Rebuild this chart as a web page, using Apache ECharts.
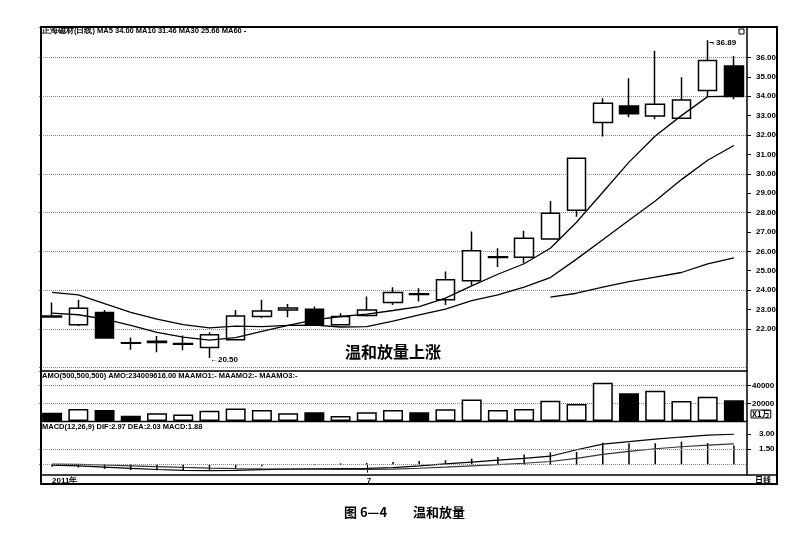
<!DOCTYPE html>
<html><head><meta charset="utf-8">
<script src="https://cdn.jsdelivr.net/npm/echarts@6/dist/echarts.min.js"></script>
<style>html,body{margin:0;padding:0;background:#fff}#c{width:788px;height:541px}</style>
</head><body><div id="c"></div>
<script>
const categories = ['06-15','06-16','06-17','06-20','06-21','06-22','06-23','06-24','06-27','06-28','06-29','06-30','07-01','07-04','07-05','07-06','07-07','07-08','07-11','07-12','07-13','07-14','07-15','07-18','07-19','07-20','07-21'];
const openP  = [22.66,22.21,22.85,21.29,21.30,21.21,21.04,21.44,22.64,22.98,23.02,22.21,22.69,23.36,23.81,23.50,24.48,25.68,25.70,26.64,28.12,32.64,33.50,32.98,32.87,34.29,35.56];
const closeP = [22.62,23.07,21.53,21.26,21.36,21.25,21.70,22.67,22.93,23.08,22.21,22.64,22.98,23.88,23.78,24.53,26.03,25.72,26.68,27.97,30.80,33.64,33.09,33.59,33.81,35.84,33.98];
const lowP   = [22.60,22.15,21.53,20.92,20.80,20.90,20.50,21.40,22.56,22.60,22.21,22.20,22.64,23.24,23.41,23.24,24.27,25.19,25.39,26.60,27.79,31.92,32.92,32.81,32.85,34.00,33.85];
const highP  = [23.36,23.50,22.98,21.56,21.64,21.66,21.83,22.98,23.50,23.29,23.16,22.81,23.67,24.15,24.10,24.96,27.02,26.16,27.06,28.60,30.82,33.90,34.93,36.34,34.98,36.89,36.08];
const ma5  = [22.81,22.73,22.50,22.18,21.82,21.58,21.42,21.55,21.87,22.18,22.47,22.64,22.76,22.95,23.15,23.59,24.22,24.82,25.36,26.16,27.50,29.05,30.60,31.95,33.00,33.98,34.00];
const ma10 = [23.88,23.76,23.30,22.85,22.50,22.22,22.05,22.14,22.12,22.18,22.20,22.10,22.12,22.40,22.72,23.02,23.46,23.76,24.15,24.65,25.60,26.60,27.60,28.60,29.70,30.70,31.46];
const ma30 = [null,null,null,null,null,null,null,null,null,null,null,null,null,null,null,null,null,null,null,23.64,23.84,24.15,24.44,24.67,24.91,25.36,25.66];
const volume = [9400,13600,12400,6000,8700,7500,11600,14300,12400,8700,9800,5600,9800,12400,9800,13200,24500,12400,13600,22900,19200,43300,31300,34200,22600,27500,23400];
const dif  = [-0.05,-0.12,-0.25,-0.38,-0.48,-0.56,-0.60,-0.56,-0.50,-0.45,-0.42,-0.40,-0.38,-0.30,-0.12,0.07,0.25,0.43,0.60,0.82,1.45,2.00,2.25,2.50,2.70,2.88,2.97];
const dea  = [0.05,0.02,-0.04,-0.12,-0.20,-0.28,-0.34,-0.39,-0.42,-0.44,-0.45,-0.46,-0.46,-0.44,-0.36,-0.25,-0.12,0.00,0.13,0.30,0.60,1.00,1.30,1.55,1.75,1.90,2.03];
const macdHist = [-0.20,-0.28,-0.42,-0.52,-0.56,-0.56,-0.52,-0.34,-0.16,0.00,0.06,0.12,0.16,0.26,0.36,0.43,0.59,0.75,1.00,1.20,1.24,2.15,2.09,2.09,2.25,2.10,1.88];
const priceTicks = [22,23,24,25,26,27,28,29,30,31,32,33,34,35,36];
const volumeTicks = [20000,40000];
const macdTicks = [1.5,3];
const macdGridLevels = [0,1.5];
const dateLabelIndex = [0,12];
const dateLabelText = ['2011年','7'];
const stockName = '正海磁材(日线)';
const amoText = 'AMO(500,500,500) AMO:234009616.00 MAAMO1:- MAAMO2:- MAAMO3:-';
const noteText = '温和放量上涨';
const captionNo = '图 6—4';
const captionTitle = '温和放量';

const last = a => a[a.length - 1];
const headerText = `${stockName} MA5 ${last(ma5).toFixed(2)} MA10 ${last(ma10).toFixed(2)} MA30 ${last(ma30).toFixed(2)} MA60 -`;
const macdText = `MACD(12,26,9) DIF:${last(dif).toFixed(2)} DEA:${last(dea).toFixed(2)} MACD:${last(macdHist).toFixed(2)}`;

const kData = categories.map((_, i) => [openP[i], closeP[i], lowP[i], highP[i]]);
const hiVal = Math.max(...highP), hiIdx = highP.indexOf(hiVal);
const loVal = Math.min(...lowP), loIdx = lowP.indexOf(loVal);
const volData = volume.map((v, i) => ({
  value: v,
  itemStyle: { color: closeP[i] < openP[i] ? '#000' : '#fff', borderColor: '#000', borderWidth: 1.5 }
}));

const F = 'Arial, "Liberation Sans", sans-serif';
const axisLab = { color: '#000', fontSize: 8, fontWeight: 'bold', fontFamily: F };
const dotted = { color: '#8a8a8a', type: 'dotted', width: 1 };
const gl = { left: 39, width: 708 };

const chart = echarts.init(document.getElementById('c'), null, { renderer: 'canvas' });
chart.setOption({
  animation: false,
  backgroundColor: '#fff',
  grid: [
    Object.assign({ top: 27, height: 344 }, gl),
    Object.assign({ top: 371, height: 50 }, gl),
    Object.assign({ top: 421, height: 54 }, gl)
  ],
  xAxis: [0, 1, 2].map(g => ({
    type: 'category', gridIndex: g, data: categories, boundaryGap: true,
    axisLine: { show: false },
    axisTick: g === 2 ? { show: true, alignWithLabel: true, length: 8, interval: (i) => dateLabelIndex.indexOf(i) > 0, lineStyle: { color: '#000' } } : { show: false },
    axisLabel: g === 2 ? Object.assign({ show: true, interval: (i) => dateLabelIndex.indexOf(i) >= 0, formatter: (v, i) => dateLabelText[dateLabelIndex.indexOf(i)] || '', align: 'left', margin: 2 }, axisLab, {fontSize: 8}) : { show: false },
    splitLine: { show: false }
  })),
  yAxis: [
    { type: 'value', gridIndex: 0, position: 'right', min: 19.83, max: 37.57, scale: true,
      axisLine: { show: true, lineStyle: { color: '#000', width: 1.5 } },
      axisTick: { show: true, customValues: priceTicks, length: 4, lineStyle: { color: '#000' } },
      axisLabel: Object.assign({ customValues: priceTicks, formatter: v => v.toFixed(2), margin: 9 }, axisLab),
      splitLine: { show: false } },
    { type: 'value', gridIndex: 0, position: 'right', min: 19.83, max: 37.57, splitNumber: 9, scale: true,
      axisLine: { show: false }, axisTick: { show: false }, axisLabel: { show: false },
      splitLine: { show: true, lineStyle: dotted } },
    { type: 'value', gridIndex: 1, position: 'right', min: 0, max: 56650, splitNumber: 3,
      axisLine: { show: true, lineStyle: { color: '#000', width: 1.5 } },
      axisTick: { show: true, customValues: volumeTicks, length: 4, lineStyle: { color: '#000' } },
      axisLabel: Object.assign({ customValues: volumeTicks, formatter: v => String(v), margin: 5 }, axisLab),
      splitLine: { show: true, lineStyle: dotted } },
    { type: 'value', gridIndex: 2, position: 'right', min: -1.02, max: 4.27, scale: true,
      axisLine: { show: true, lineStyle: { color: '#000', width: 1.5 } },
      axisTick: { show: true, customValues: macdTicks, length: 4, lineStyle: { color: '#000' } },
      axisLabel: Object.assign({ customValues: macdTicks, formatter: v => v.toFixed(2), margin: 12 }, axisLab),
      splitLine: { show: false } }
  ],
  series: [
    { type: 'candlestick', xAxisIndex: 0, yAxisIndex: 0, data: kData, barWidth: 19,
      itemStyle: { color: '#fff', color0: '#000', borderColor: '#000', borderColor0: '#000', borderWidth: 1.5 },
      markPoint: {
        symbol: 'circle', symbolSize: 1, itemStyle: { color: 'rgba(0,0,0,0)' }, silent: true,
        data: [
          { coord: [hiIdx, hiVal], label: { show: true, position: 'right', distance: 1, offset: [0, 3], formatter: '¬ ' + hiVal.toFixed(2), color: '#000', fontSize: 8, fontWeight: 'bold', fontFamily: F } },
          { coord: [loIdx, loVal], label: { show: true, position: 'right', distance: 0, offset: [0, 2], formatter: '←' + loVal.toFixed(2), color: '#000', fontSize: 8, fontWeight: 'bold', fontFamily: F } }
        ]
      } },
    { type: 'line', xAxisIndex: 0, yAxisIndex: 0, data: ma5, symbol: 'none', lineStyle: { color: '#000', width: 1.3 } },
    { type: 'line', xAxisIndex: 0, yAxisIndex: 0, data: ma10, symbol: 'none', lineStyle: { color: '#000', width: 1.3 } },
    { type: 'line', xAxisIndex: 0, yAxisIndex: 0, data: ma30, symbol: 'none', lineStyle: { color: '#000', width: 1.3 } },
    { type: 'bar', xAxisIndex: 1, yAxisIndex: 2, data: volData, barWidth: 20 },
    { type: 'bar', xAxisIndex: 2, yAxisIndex: 3, data: macdHist, barWidth: 1.5, itemStyle: { color: '#000' },
      markLine: { silent: true, symbol: 'none', label: { show: false }, lineStyle: dotted,
        data: macdGridLevels.map(v => ({ yAxis: v })) } },
    { type: 'line', xAxisIndex: 2, yAxisIndex: 3, data: dif, symbol: 'none', lineStyle: { color: '#000', width: 1.2 } },
    { type: 'line', xAxisIndex: 2, yAxisIndex: 3, data: dea, symbol: 'none', lineStyle: { color: '#333', width: 1.2 } }
  ],
  graphic: [
    { type: 'rect', z: 100, shape: { x: 41, y: 27, width: 736, height: 457 }, style: { fill: 'none', stroke: '#000', lineWidth: 2 } },
    { type: 'line', z: 100, shape: { x1: 41, y1: 371, x2: 747, y2: 371 }, style: { stroke: '#000', lineWidth: 1.5 } },
    { type: 'line', z: 100, shape: { x1: 41, y1: 421.5, x2: 747, y2: 421.5 }, style: { stroke: '#000', lineWidth: 1.5 } },
    { type: 'line', z: 100, shape: { x1: 41, y1: 475, x2: 777, y2: 475 }, style: { stroke: '#000', lineWidth: 1.5 } },
    { type: 'rect', z: 100, shape: { x: 739, y: 29, width: 5, height: 5 }, style: { fill: '#fff', stroke: '#000', lineWidth: 1 } },
    { type: 'text', z: 100, x: 42, y: 31, style: { text: headerText, fill: '#000', fontSize: 7.5, fontWeight: 'bold', fontFamily: F, verticalAlign: 'middle' } },
    { type: 'text', z: 100, x: 42, y: 376, style: { text: amoText, fill: '#000', fontSize: 7.5, fontWeight: 'bold', fontFamily: F, verticalAlign: 'middle' } },
    { type: 'text', z: 100, x: 42, y: 427, style: { text: macdText, fill: '#000', fontSize: 7.5, fontWeight: 'bold', fontFamily: F, verticalAlign: 'middle' } },
    { type: 'text', z: 100, x: 751, y: 410, style: { text: 'X1万', fill: '#000', fontSize: 8, fontWeight: 'bold', fontFamily: '"Noto Sans CJK SC", sans-serif', borderColor: '#000', borderWidth: 1, padding: [0, 1, 0, 1] } },
    { type: 'text', z: 100, x: 755, y: 480, style: { text: '日线', fill: '#000', fontSize: 8, fontWeight: 'bold', fontFamily: '"Noto Sans CJK SC", sans-serif', verticalAlign: 'middle' } },
    { type: 'text', z: 100, x: 345, y: 352, style: { text: noteText, fill: '#000', fontSize: 16, fontWeight: 'bold', fontFamily: '"Noto Sans CJK SC", sans-serif', verticalAlign: 'middle' } },
    { type: 'text', z: 100, x: 344, y: 512, style: { text: captionNo, fill: '#000', fontSize: 13, fontWeight: 'bold', fontFamily: '"Noto Sans CJK SC", sans-serif', verticalAlign: 'middle' } },
    { type: 'text', z: 100, x: 413, y: 512, style: { text: captionTitle, fill: '#000', fontSize: 13, fontWeight: 'bold', fontFamily: '"Noto Sans CJK SC", sans-serif', verticalAlign: 'middle' } }
  ]
});
</script></body></html>
